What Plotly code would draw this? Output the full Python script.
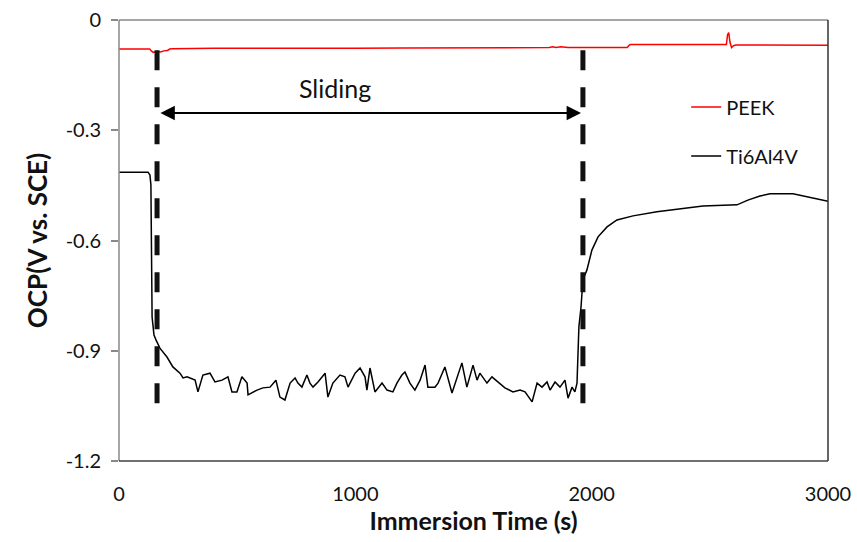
import plotly.graph_objects as go

# ---- data ----
ti_t = [0, 60, 123, 131, 135, 140, 148, 157, 173, 203, 228, 258, 271, 288, 322, 334, 355, 385, 406, 436, 461, 478, 499,
        520, 542, 546, 584, 609, 639, 664, 681, 702, 724, 745, 757, 774, 795, 808, 821, 842, 872, 884, 905, 935, 956,
        969, 999, 1020, 1041, 1049, 1062, 1083, 1113, 1134, 1159, 1176, 1197, 1210, 1231, 1252, 1274, 1295, 1307,
        1337, 1350, 1379, 1409, 1451, 1472, 1498, 1515, 1527, 1557, 1578, 1604, 1633, 1667, 1697, 1718, 1748, 1769,
        1790, 1811, 1824, 1845, 1866, 1887, 1900, 1917, 1929, 1938, 1942, 1946, 1955, 1963, 1980, 2001, 2027, 2065,
        2107, 2175, 2276, 2386, 2471, 2615, 2661, 2712, 2755, 2852, 2936, 3000]
ti_v = [-0.414, -0.414, -0.414, -0.422, -0.449, -0.808, -0.857, -0.871, -0.893, -0.917, -0.944, -0.961, -0.974,
        -0.971, -0.980, -1.012, -0.966, -0.961, -0.985, -0.980, -0.971, -1.012, -1.012, -0.971, -0.988, -1.020,
        -1.007, -1.001, -0.999, -0.980, -1.026, -1.034, -0.988, -0.974, -0.988, -0.999, -0.966, -0.988, -0.999,
        -0.985, -0.961, -1.026, -0.988, -0.966, -0.971, -0.999, -0.961, -0.947, -0.971, -1.007, -0.947, -1.012,
        -0.988, -1.007, -1.012, -0.988, -0.966, -0.958, -0.988, -1.007, -0.980, -0.939, -0.999, -0.999, -0.988,
        -0.944, -1.015, -0.933, -0.999, -0.939, -0.980, -0.961, -0.988, -0.971, -0.985, -1.001, -1.012, -1.007,
        -1.012, -1.039, -0.988, -0.999, -0.985, -1.007, -0.985, -0.999, -0.980, -1.029, -0.999, -1.012, -0.988,
        -0.884, -0.835, -0.781, -0.707, -0.680, -0.626, -0.590, -0.563, -0.544, -0.533, -0.522, -0.512, -0.506,
        -0.503, -0.490, -0.479, -0.473, -0.473, -0.484, -0.493]

peek_t = [0, 130, 138, 145, 160, 175, 190, 205, 215, 225, 400, 430, 460, 1000, 1200, 1820, 1835, 1850, 1870,
          1900, 2150, 2160, 2165, 2570, 2575, 2580, 2585, 2592, 2600, 2610, 3000]
peek_v = [-0.079, -0.079, -0.085, -0.088, -0.086, -0.087, -0.084, -0.083, -0.079, -0.078, -0.077, -0.076, -0.077,
          -0.077, -0.076, -0.075, -0.073, -0.075, -0.073, -0.075, -0.075, -0.068, -0.067, -0.067, -0.040, -0.034,
          -0.060, -0.075, -0.070, -0.068, -0.069]

sliding_start = 161
sliding_end = 1963
marker_top = -0.082
marker_bottom = -1.067
arrow_level = -0.253

x_ticks = [0, 1000, 2000, 3000]
y_ticks = [0, -0.3, -0.6, -0.9, -1.2]
y_tick_text = ["0", "-0.3", "-0.6", "-0.9", "-1.2"]

FONT = "Lato, 'Open Sans', sans-serif"

fig = go.Figure()
fig.add_trace(go.Scatter(x=peek_t, y=peek_v, mode="lines", name="PEEK", legendgroup="a",
                         line=dict(color="#ff0000", width=1.5)))
fig.add_trace(go.Scatter(x=ti_t, y=ti_v, mode="lines", name="Ti6Al4V", legendgroup="b",
                         line=dict(color="#000000", width=1.5)))

for xv in (sliding_start, sliding_end):
    fig.add_shape(type="line", xref="x", yref="y", x0=xv, x1=xv, y0=marker_top, y1=marker_bottom,
                  line=dict(color="#111111", width=5, dash="20px,17px"))

fig.add_annotation(x=sliding_end - 8, y=arrow_level, ax=sliding_start + 8, ay=arrow_level,
                   xref="x", yref="y", axref="x", ayref="y", text="", showarrow=True,
                   arrowhead=2, arrowside="end+start", arrowsize=1.6, arrowwidth=1.8, arrowcolor="#000")
fig.add_annotation(x=(sliding_start + sliding_end) / 2 - 150, y=-0.185, xref="x", yref="y",
                   text="Sliding", showarrow=False, font=dict(family=FONT, size=25, color="#111"))

# border lines
fig.add_shape(type="line", xref="paper", yref="paper", x0=0, x1=1, y0=1, y1=1, line=dict(color="#898989", width=1.5))
fig.add_shape(type="line", xref="paper", yref="paper", x0=0, x1=0, y0=0, y1=1, line=dict(color="#898989", width=1.5))
fig.add_shape(type="line", xref="paper", yref="paper", x0=0, x1=1, y0=0, y1=0, line=dict(color="#404040", width=1.5))
fig.add_shape(type="line", xref="paper", yref="paper", x0=1, x1=1, y0=0, y1=1, line=dict(color="#333333", width=1.5))

fig.update_layout(
    width=857, height=542,
    margin=dict(l=119, r=29, t=20, b=81),
    paper_bgcolor="white", plot_bgcolor="white",
    font=dict(family=FONT, color="#111"),
    showlegend=True,
    legend=dict(x=0.80, y=0.847, xanchor="left", yanchor="top", bgcolor="rgba(0,0,0,0)",
                font=dict(family=FONT, size=20, color="#111"), tracegroupgap=20),
    xaxis=dict(range=[0, 3000], tickvals=x_ticks, showgrid=False, zeroline=False, showline=False,
               automargin=False, ticklabeloverflow="allow",
               ticks="", tickfont=dict(family=FONT, size=20, color="#111"), ticklabelstandoff=19,
               title=dict(text="<b>Immersion Time (s)</b>", font=dict(family=FONT, size=25, color="#111"),
                          standoff=4)),
    yaxis=dict(range=[-1.2, 0], tickvals=y_ticks, ticktext=y_tick_text, showgrid=False, zeroline=False,
               automargin=False, ticklabeloverflow="allow",
               showline=False, ticks="outside", ticklen=7, tickcolor="#898989", tickwidth=1.5,
               tickfont=dict(family=FONT, size=20, color="#111"), ticklabelstandoff=6,
               title=dict(text="<b>OCP(V vs. SCE)</b>", font=dict(family=FONT, size=26, color="#111"),
                          standoff=10)),
)

fig.write_html("out.html", config={"displayModeBar": False},
               post_script="document.body.style.margin='0';document.body.style.overflow='hidden';")
